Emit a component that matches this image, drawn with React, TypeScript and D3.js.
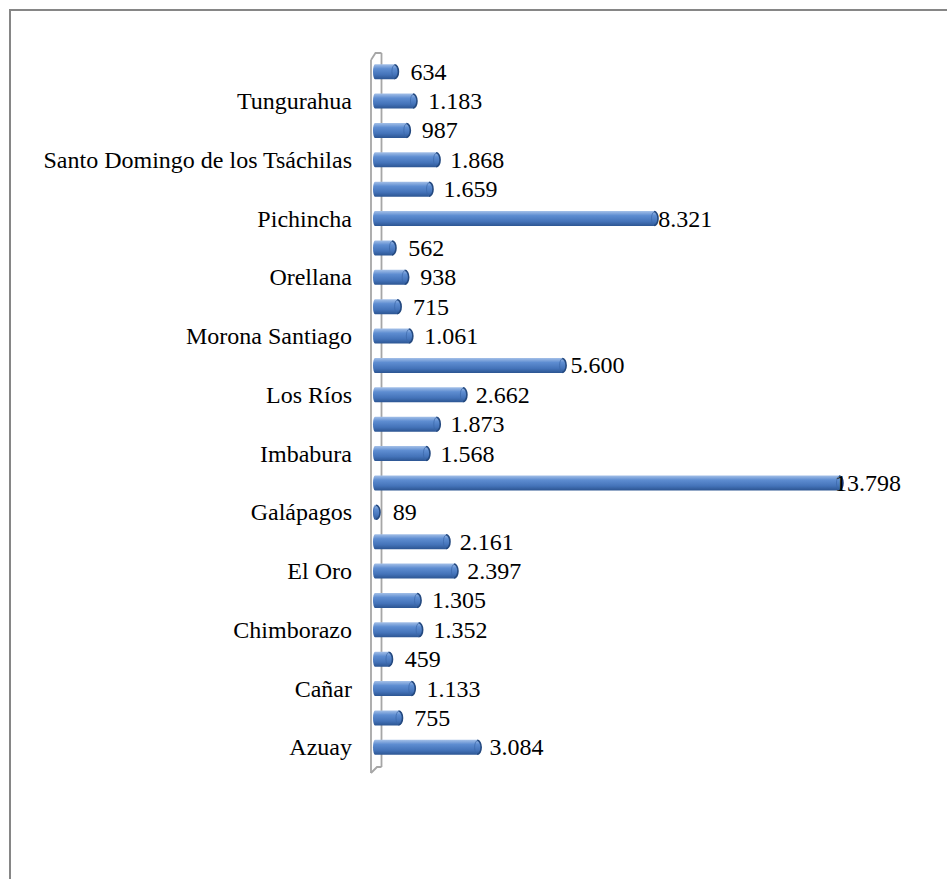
import React from "react";
import * as d3 from "d3";

const provinces = [
  "Azuay", "Bolívar", "Cañar", "Carchi", "Chimborazo", "Cotopaxi", "El Oro", "Esmeraldas",
  "Galápagos", "Guayas", "Imbabura", "Loja", "Los Ríos", "Manabí", "Morona Santiago", "Napo",
  "Orellana", "Pastaza", "Pichincha", "Santa Elena", "Santo Domingo de los Tsáchilas",
  "Sucumbíos", "Tungurahua", "Zamora Chinchipe",
];
const values = [
  3084, 755, 1133, 459, 1352, 1305, 2397, 2161, 89, 13798, 1568, 1873, 2662, 5600, 1061, 715,
  938, 562, 8321, 1659, 1868, 987, 1183, 634,
];

const W = 947;
const H = 879;
const FONT = "Liberation Serif";

const locale = d3.formatLocale({ decimal: ",", thousands: ".", grouping: [3], currency: ["", ""] });
const fmt = locale.format(",d");

export default function App() {
  const x = d3.scaleLinear().domain([0, 13798]).range([373, 839]);
  // data labels are projected slightly differently in the 3D view
  const xLabel = d3.scaleLinear().domain([0, 13798]).range([390, 835]);
  const y = d3.scaleBand<string>().domain(provinces).range([762, 57]).padding(0);
  const bh = 15;
  const rx = 4;

  return (
    <svg width={W} height={H} style={{ position: "absolute", left: 0, top: 0, background: "#fff" }}>
      <defs>
        <linearGradient id="barG" x1="0" y1="0" x2="0" y2="1">
          <stop offset="0" stopColor="#a4c0e8" />
          <stop offset="0.3" stopColor="#5e8dd1" />
          <stop offset="0.7" stopColor="#4473b9" />
          <stop offset="1" stopColor="#2c5592" />
        </linearGradient>
      </defs>
      {/* outer frame (cut by the page edge) */}
      <path d={`M10,${H + 5} L10,10 L${W + 5},10`} fill="none" stroke="#868686" strokeWidth={2} />
      {/* 3D wall */}
      <path
        d="M381.5,53 L381.5,767 M371,60 L375.5,53 L381.5,53 M371,773 L377,767 L381.5,767"
        fill="none"
        stroke="#a6a6a6"
        strokeWidth={1.8}
      />
      {provinces.map((p, i) => {
        const v = values[i];
        const cy = (y(p) as number) + y.bandwidth() / 2;
        const xe = x(v);
        const x0 = x(0);
        return (
          <g key={p}>
            <path
              d={`M${x0 + 2},${cy - bh / 2} L${xe},${cy - bh / 2} A${rx},${bh / 2} 0 0 1 ${xe},${cy + bh / 2} L${x0 + 2},${cy + bh / 2} A2,${bh / 2} 0 0 1 ${x0 + 2},${cy - bh / 2} Z`}
              fill="url(#barG)"
            />
            <path
              d={`M${xe},${cy - bh / 2 + 0.5} A${rx},${bh / 2 - 0.5} 0 0 1 ${xe},${cy + bh / 2 - 0.5}`}
              fill="none"
              stroke="#24497f"
              strokeWidth={1.6}
            />
            <path
              d={`M${xe},${cy - bh / 2 + 1} A${rx - 1.5},${bh / 2 - 1} 0 0 0 ${xe},${cy + bh / 2 - 1}`}
              fill="none"
              stroke="#3a66a8"
              strokeWidth={1}
              opacity={0.7}
            />
            <text
              x={xLabel(v)}
              y={cy + 8}
              textAnchor="start"
              fontFamily={FONT}
              fontSize={24}
              fill="#000"
            >
              {fmt(v)}
            </text>
          </g>
        );
      })}
      <path d="M371,60 L371,773" fill="none" stroke="#a6a6a6" strokeWidth={1.8} />
      {provinces.map((p, i) =>
        i % 2 === 0 ? (
          <text
            key={"l" + p}
            x={352}
            y={(y(p) as number) + y.bandwidth() / 2 + 8}
            textAnchor="end"
            fontFamily={FONT}
            fontSize={24}
            fill="#000"
          >
            {p}
          </text>
        ) : null
      )}
    </svg>
  );
}
